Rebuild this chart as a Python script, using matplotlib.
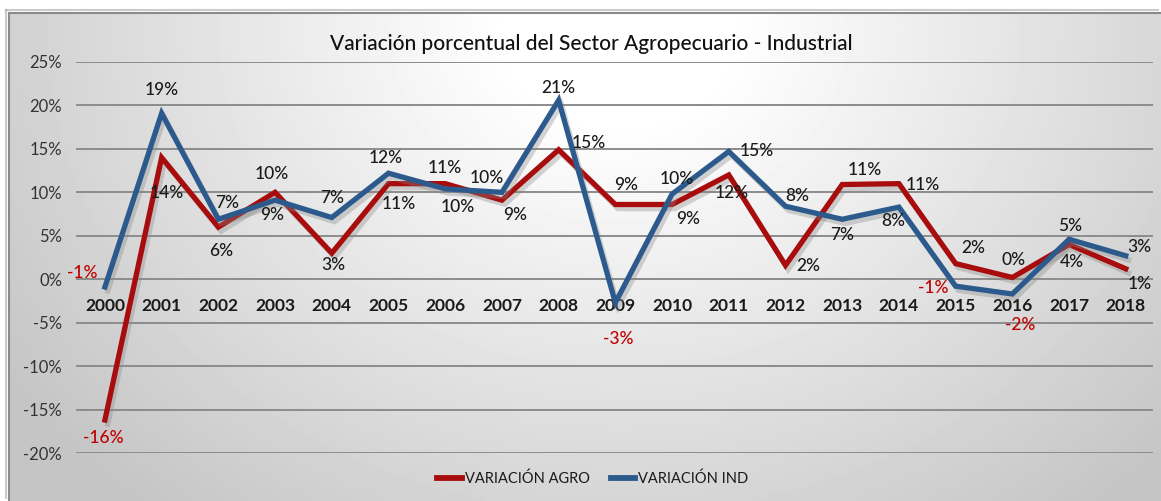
import numpy as np
import matplotlib
matplotlib.use("Agg")
import matplotlib.pyplot as plt
import matplotlib.patheffects as pe

# data
years = ["2000", "2001", "2002", "2003", "2004", "2005", "2006", "2007", "2008", "2009",
         "2010", "2011", "2012", "2013", "2014", "2015", "2016", "2017", "2018"]
agro = [-16.2, 14.0, 6.0, 10.0, 3.0, 11.0, 11.0, 9.1, 14.9, 8.6,
        8.6, 12.0, 1.6, 10.9, 11.0, 1.8, 0.2, 4.0, 1.2]
ind = [-0.9, 19.1, 6.9, 9.1, 7.1, 12.2, 10.4, 10.0, 20.6, -2.7,
       9.8, 14.7, 8.4, 6.9, 8.3, -0.8, -1.7, 4.6, 2.7]
series_names = ["VARIACIÓN AGRO", "VARIACIÓN IND"]

# label offsets in pixels (dx, dy)
agro_off = [(-2, -18), (5, -35), (3, -24), (-3, 18), (2, -12), (10, -20), (0, 16), (13, -15),
            (30, 7), (11, 19), (16, -15), (3, -18), (23, -1), (23, 15), (24, -1), (18, 16),
            (1, 17), (3, -18), (14, -15)]
ind_off = [(-23, 14), (0, 23), (9, 16), (-3, -15), (0, 20), (-3, 15), (13, -18), (-15, 14),
           (0, 12), (3, -36), (5, 15), (28, 0), (12, 10), (0, -16), (-6, -14), (-22, -2),
           (8, -31), (1, 13), (14, 9)]

plt.rcParams["font.family"] = ["Lato", "DejaVu Sans"]

RED = "#A80C0C"
BLUE = "#2D5A8C"
NEG = "#C00000"

W, H = 1161, 501
fig = plt.figure(figsize=(W / 100, H / 100), dpi=100, facecolor="white")

# background panel with soft gradient
bg = fig.add_axes([9 / W, 0, 1 - 9 / W, 1 - 13 / H])
gx, gy = np.meshgrid(np.linspace(0, 1, 300), np.linspace(0, 1, 150))
r = np.sqrt(((gx - 0.53) / 0.6) ** 2 + ((gy - 0.97) / 1.2) ** 2)
v = np.clip(1.04 - 0.25 * r, 0.77, 1)
bg.imshow(v, cmap="gray", vmin=0, vmax=1, origin="lower", extent=[0, 1, 0, 1], aspect="auto")
bg.set_xticks([])
bg.set_yticks([])
for s in ["right", "bottom"]:
    bg.spines[s].set_visible(False)
for s in ["left", "top"]:
    bg.spines[s].set_color("#8a8a8a")
    bg.spines[s].set_linewidth(1.5)
    bg.spines[s].set_path_effects([pe.SimpleLineShadow(offset=(-2, 2), shadow_color="#999999", alpha=0.5), pe.Normal()])

# main axes
ax = fig.add_axes([76 / W, 1 - 453 / H, (1153 - 76) / W, (453 - 62) / H])
ax.patch.set_alpha(0)
x = np.arange(len(years))
ax.set_xlim(-0.51, len(years) - 1 + 0.48)
ax.set_ylim(-20, 25)
ax.set_yticks(range(-20, 26, 5))
ax.set_yticklabels([f"{t}%" for t in range(-20, 26, 5)], fontsize=12, color="#333333")
ax.tick_params(axis="y", length=0, pad=10)
ax.set_xticks([])
for s in ax.spines.values():
    s.set_visible(False)
ax.grid(axis="y", color="#8c8c8c", linewidth=1.4)
ax.set_axisbelow(True)

shadow = [pe.SimpleLineShadow(offset=(2, -3), shadow_color="#888888", alpha=0.35), pe.Normal()]
ax.plot(x, agro, color=RED, linewidth=3.8, solid_joinstyle="miter", label=series_names[0],
        path_effects=shadow, zorder=3)
ax.plot(x, ind, color=BLUE, linewidth=3.8, solid_joinstyle="miter", label=series_names[1],
        path_effects=shadow, zorder=4)

# year labels just below the zero line
for i, yr in enumerate(years):
    ax.annotate(yr, (i, 0), xytext=(0, -27), textcoords="offset pixels",
                ha="center", va="center", fontsize=12.5, fontweight="bold", color="#1a1a1a")

# data labels
for vals, offs in [(agro, agro_off), (ind, ind_off)]:
    for i, (val, off) in enumerate(zip(vals, offs)):
        lab = f"{round(val):.0f}%"
        ax.annotate(lab, (i, val), xytext=off, textcoords="offset pixels",
                    ha="center", va="center", fontsize=12.5, fontweight="medium",
                    color=NEG if round(val) < 0 else "#1a1a1a", zorder=6)

fig.text(591 / W, 1 - 44 / H, "Variación porcentual del Sector Agropecuario - Industrial",
         ha="center", va="center", fontsize=15, fontweight="medium", color="#111111")

leg = ax.legend(loc="center", bbox_to_anchor=(0.48, -0.065), ncol=2, frameon=False,
                fontsize=10.5, handlelength=1.7, handletextpad=0.2, columnspacing=1.4)
for t in leg.get_texts():
    t.set_color("#1a1a1a")
for h in leg.legend_handles:
    h.set_path_effects([pe.Normal()])
    h.set_linewidth(4.2)

fig.savefig("out.png", dpi=100)
